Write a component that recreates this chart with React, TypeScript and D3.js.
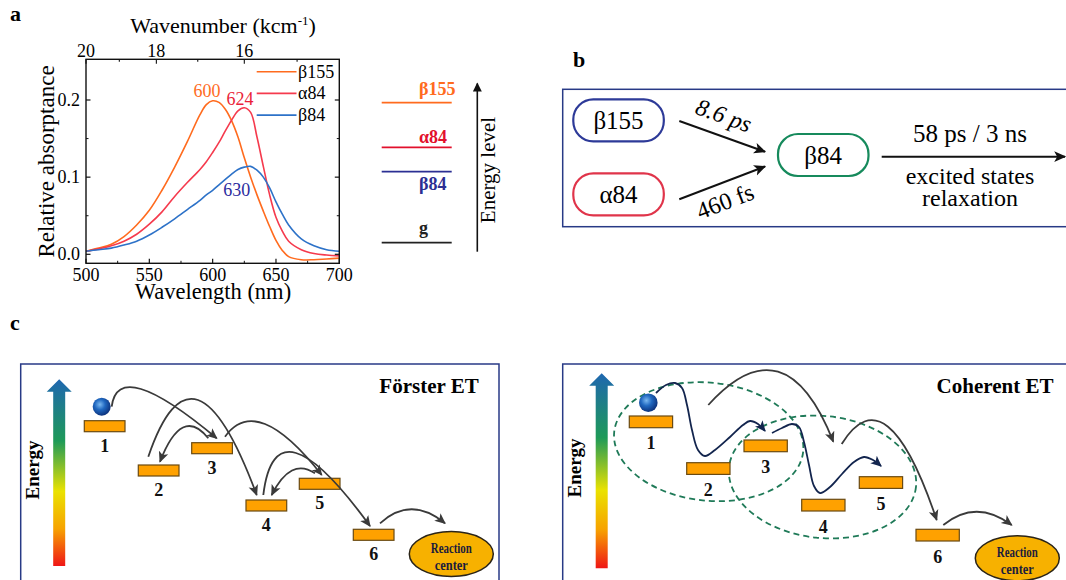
import * as d3 from 'd3'

const SERIF = { fontFamily: 'Liberation Serif' }

// ---- panel a: absorption spectra ----
const wavelengths = [500, 510, 520, 530, 540, 550, 560, 570, 580, 590, 595, 600, 605, 610, 615, 620, 625, 630, 635, 640, 645, 650, 655, 660, 670, 680, 690, 700]
const beta155Abs = [0.004, 0.008, 0.013, 0.023, 0.038, 0.057, 0.083, 0.113, 0.146, 0.181, 0.194, 0.199, 0.197, 0.188, 0.173, 0.152, 0.125, 0.1, 0.077, 0.056, 0.036, 0.018, 0.005, -0.003, -0.007, -0.007, -0.006, -0.005]
const alpha84Abs = [0.004, 0.007, 0.011, 0.017, 0.026, 0.039, 0.055, 0.075, 0.093, 0.11, 0.12, 0.132, 0.145, 0.16, 0.174, 0.186, 0.19, 0.184, 0.152, 0.114, 0.077, 0.048, 0.03, 0.017, 0.006, 0.001, -0.001, -0.002]
const beta84Abs = [0.004, 0.006, 0.008, 0.012, 0.017, 0.025, 0.035, 0.046, 0.058, 0.07, 0.077, 0.083, 0.09, 0.097, 0.104, 0.11, 0.113, 0.114, 0.109, 0.1, 0.086, 0.068, 0.052, 0.038, 0.02, 0.011, 0.006, 0.004]

const seriesNames = ['β155', 'α84', 'β84']
const seriesColors = ['#ff6b1e', '#f53a4d', '#2d72c8']

const peakLabels = ['600', '624', '630']
const peakLabelWl = [595.5, 621.5, 619]
const peakLabelAbs = [0.204, 0.194, 0.076]
const peakLabelColors = ['#ff6b1e', '#ea1f3a', '#2b2b9e']

const wlTicks = [500, 550, 600, 650, 700]
const wlMinorTicks = [525, 575, 625, 675]
const absTicks = [0, 0.1, 0.2]
const absMinorTicks = [0.05, 0.15]
const wnTicks = [20, 19, 18, 17, 16, 15]
const wnLabels = [20, 18, 16]

// energy level sketch next to the spectra
const levelNames = ['β155', 'α84', 'β84', 'g']
const levelColors = ['#ff6b1e', '#e2102c', '#2b2f93', '#222222']
const levelPosY = [102.7, 147.3, 171.7, 242.7]
const levelLabelY = [95, 142.5, 190, 234]

// ---- panel b: kinetic scheme ----
const nodeNames = ['β155', 'α84', 'β84']
const nodeColors = ['#2d3a98', '#e0344a', '#168a5c']
const nodeX = [573.3, 573.3, 778]
const nodeY = [99.3, 173.3, 134]

// ---- panel c: energy transfer sketches ----
const siteNames = ['1', '2', '3', '4', '5', '6']
const forsterSiteX = [84.3, 138.3, 191.7, 246, 299.3, 353.3]
const forsterSiteY = [420.7, 465, 442.7, 500, 478.3, 529.3]
const coherentSiteX = [629.3, 686.7, 744, 801.7, 859.3, 916]
const coherentSiteY = [416, 462.7, 440, 499.3, 476.7, 529.3]

// hops: start, apex, end
const forsterHops: [number, number][][] = [
  [[111.7, 406.7], [141, 389], [216.7, 438.3]],
  [[148.3, 456.7], [198, 400], [256.7, 495]],
  [[208.3, 438.3], [183, 427.5], [160, 461.7]],
  [[225, 436.7], [265, 424], [321.7, 475]],
  [[263.3, 495], [296, 453], [370, 526]],
  [[315, 473.3], [292, 470.5], [271.7, 495]],
  [[380, 523.3], [411.7, 509.3], [445, 523.3]],
]
const coherentHops: [number, number][][] = [
  [[708.3, 405], [778, 371.7], [833.3, 441.7]],
  [[841.7, 444], [888, 426.7], [936.7, 520]],
  [[943.3, 525], [976.7, 511.7], [1011.7, 525]],
]
const coherentWaves: [number, number][][] = [
  [[656, 393], [666, 385], [675, 383], [682, 388], [687, 405], [692, 430], [698, 450], [705, 456], [715, 450], [730, 437], [743, 425], [750, 421], [758, 424], [765, 431]],
  [[772, 433], [782, 428], [792, 424], [799, 427], [804, 442], [809, 465], [814, 486], [820, 493], [830, 487], [842, 474], [854, 462], [864, 457], [873, 460], [881, 466]],
]
const coherenceDomains = [
  { cx: 708.7, cy: 441.7, rx: 95, ry: 59, rot: 6 },
  { cx: 822.5, cy: 477, rx: 94, ry: 61, rot: 6 },
]

function hopPath(p: [number, number][]) {
  const [s, a, e] = p
  const path = d3.path()
  path.moveTo(s[0], s[1])
  path.quadraticCurveTo(2 * a[0] - (s[0] + e[0]) / 2, 2 * a[1] - (s[1] + e[1]) / 2, e[0], e[1])
  return path.toString()
}

const waveLine = d3.line().curve(d3.curveCatmullRom.alpha(0.5))

function EnergyArrow({ x, top, bottom, id }: { x: number; top: number; bottom: number; id: string }) {
  const p = d3.path()
  p.moveTo(x - 6, bottom)
  p.lineTo(x - 6, top + 12.5)
  p.lineTo(x - 12.5, top + 12.5)
  p.lineTo(x, top)
  p.lineTo(x + 12.5, top + 12.5)
  p.lineTo(x + 6, top + 12.5)
  p.lineTo(x + 6, bottom)
  p.closePath()
  return <path d={p.toString()} fill={`url(#${id})`} />
}

function Sites({ xs, ys, w, h, dy }: { xs: number[]; ys: number[]; w: number; h: number; dy: number }) {
  return (
    <g>
      {siteNames.map((s, i) => (
        <g key={s}>
          <rect x={xs[i]} y={ys[i]} width={w} height={h} fill="#ffa100" stroke="#6a4a12" strokeWidth={1.2} />
          <text style={SERIF} x={xs[i] + w / 2} y={ys[i] + h + dy} textAnchor="middle" fontWeight="bold" fontSize={18} fill="#111">{s}</text>
        </g>
      ))}
    </g>
  )
}

function ReactionCenter({ cx, cy }: { cx: number; cy: number }) {
  return (
    <g>
      <ellipse cx={cx} cy={cy} rx={42} ry={22.5} fill="#f7b100" stroke="#2a2418" strokeWidth={1.5} />
      <text style={SERIF} x={cx} y={cy - 1.5} textAnchor="middle" fontWeight="bold" fontSize={14} textLength={41} lengthAdjust="spacingAndGlyphs" fill="#1c1c3c">Reaction</text>
      <text style={SERIF} x={cx} y={cy + 16} textAnchor="middle" fontWeight="bold" fontSize={14} textLength={33} lengthAdjust="spacingAndGlyphs" fill="#1c1c3c">center</text>
    </g>
  )
}

export default function App() {
  const x = d3.scaleLinear().domain([500, 700]).range([86, 339.3])
  const y = d3.scaleLinear().domain([0, 0.2]).range([254.3, 100])
  const plotTop = 59.3
  const plotBottom = 263.3
  const series = [beta155Abs, alpha84Abs, beta84Abs]
  const line = d3
    .line<number>()
    .x((_, i) => x(wavelengths[i]))
    .y((d) => y(d))
    .curve(d3.curveCatmullRom.alpha(0.5))

  return (
    <div style={{ position: 'absolute', left: 0, top: 0 }}>
      <svg width={1066} height={580} style={{ display: 'block', background: '#fff' }}>
        <defs>
          <linearGradient id="eGradL" x1="0" y1="0" x2="0" y2="1">
            <stop offset="0" stopColor="#1f67b0" />
            <stop offset="0.33" stopColor="#1e9a58" />
            <stop offset="0.6" stopColor="#eae200" />
            <stop offset="0.8" stopColor="#f7a300" />
            <stop offset="1" stopColor="#ef1616" />
          </linearGradient>
          <radialGradient id="ball" cx="0.4" cy="0.38" r="0.65">
            <stop offset="0" stopColor="#7ab8f0" />
            <stop offset="0.45" stopColor="#2068c0" />
            <stop offset="1" stopColor="#0b2f78" />
          </radialGradient>
          <marker id="grayHead" viewBox="0 0 10 10" refX={9} refY={5} markerWidth={11} markerHeight={11} markerUnits="userSpaceOnUse" orient="auto">
            <path d="M0,0.5 L10,5 L0,9.5 L2.5,5 z" fill="#3a3a3a" />
          </marker>
          <marker id="navyHead" viewBox="0 0 10 10" refX={9} refY={5} markerWidth={11} markerHeight={11} markerUnits="userSpaceOnUse" orient="auto">
            <path d="M0,0.5 L10,5 L0,9.5 L2.5,5 z" fill="#13254e" />
          </marker>
          <marker id="blackHead" viewBox="0 0 10 10" refX={9} refY={5} markerWidth={12} markerHeight={12} markerUnits="userSpaceOnUse" orient="auto">
            <path d="M0,0.5 L10,5 L0,9.5 L2.5,5 z" fill="#111" />
          </marker>
          <marker id="levelHead" viewBox="0 0 10 10" refX={9} refY={5} markerWidth={13} markerHeight={9} markerUnits="userSpaceOnUse" orient="auto">
            <path d="M0,0 L10,5 L0,10 z" fill="#111" />
          </marker>
        </defs>

        {/* ---------- panel a ---------- */}
        <text style={SERIF} x={10} y={21} fontSize={22} fontWeight="bold">a</text>
        <text style={SERIF} x={223} y={33} textAnchor="middle" fontSize={22}>
          Wavenumber (kcm<tspan dy={-8} fontSize={13}>-1</tspan><tspan dy={8}>)</tspan>
        </text>

        {series.map((s, i) => (
          <path key={seriesNames[i]} d={line(s) ?? ''} fill="none" stroke={seriesColors[i]} strokeWidth={1.6} />
        ))}

        <rect x={86} y={plotTop} width={339.3 - 86} height={plotBottom - plotTop} fill="none" stroke="#111" strokeWidth={1.4} />

        {wlTicks.map((t) => (
          <g key={t}>
            <line x1={x(t)} x2={x(t)} y1={plotBottom} y2={plotBottom - 4.5} stroke="#111" strokeWidth={1.2} />
            <text style={SERIF} x={x(t)} y={280.5} textAnchor="middle" fontSize={18}>{t}</text>
          </g>
        ))}
        {wlMinorTicks.map((t) => (
          <line key={t} x1={x(t)} x2={x(t)} y1={plotBottom} y2={plotBottom - 2.5} stroke="#111" strokeWidth={1} />
        ))}
        {absTicks.map((t) => (
          <g key={t}>
            <line x1={86} x2={90.5} y1={y(t)} y2={y(t)} stroke="#111" strokeWidth={1.2} />
            <line x1={339.3} x2={334.8} y1={y(t)} y2={y(t)} stroke="#111" strokeWidth={1.2} />
            <text style={SERIF} x={80} y={y(t) + 6} textAnchor="end" fontSize={18}>{t.toFixed(1)}</text>
          </g>
        ))}
        {absMinorTicks.map((t) => (
          <g key={t}>
            <line x1={86} x2={88.5} y1={y(t)} y2={y(t)} stroke="#111" strokeWidth={1} />
            <line x1={339.3} x2={336.8} y1={y(t)} y2={y(t)} stroke="#111" strokeWidth={1} />
          </g>
        ))}
        {wnTicks.map((k) => (
          <line key={k} x1={x(1e4 / k)} x2={x(1e4 / k)} y1={plotTop} y2={plotTop + (k % 2 === 0 ? 4.5 : 2.5)} stroke="#111" strokeWidth={1.1} />
        ))}
        {wnLabels.map((k) => (
          <text style={SERIF} key={k} x={x(1e4 / k)} y={56.5} textAnchor="middle" fontSize={18}>{k}</text>
        ))}

        <text style={SERIF} x={213} y={298.5} textAnchor="middle" fontSize={22.5}>Wavelength (nm)</text>
        <text style={SERIF} transform="translate(53.5,161.5) rotate(-90)" textAnchor="middle" fontSize={23}>Relative absorptance</text>

        {peakLabels.map((l, i) => (
          <text style={SERIF} key={l} x={x(peakLabelWl[i])} y={y(peakLabelAbs[i])} textAnchor="middle" fontSize={18} fill={peakLabelColors[i]}>{l}</text>
        ))}

        {seriesNames.map((n, i) => (
          <g key={n}>
            <line x1={256.7} x2={296.5} y1={71.7 + i * 21.7} y2={71.7 + i * 21.7} stroke={seriesColors[i]} strokeWidth={1.6} />
            <text style={SERIF} x={298} y={71.7 + i * 21.7 + 6} fontSize={18}>{n}</text>
          </g>
        ))}

        {levelNames.map((n, i) => (
          <g key={n}>
            <line x1={381.7} x2={451.7} y1={levelPosY[i]} y2={levelPosY[i]} stroke={levelColors[i]} strokeWidth={1.8} />
            <text style={SERIF} x={n === 'g' ? 423.5 : 419} y={levelLabelY[i]} fontSize={18} fontWeight="bold" fill={levelColors[i]} textAnchor={n === 'g' ? 'middle' : 'start'}>{n}</text>
          </g>
        ))}
        <line x1={477.3} x2={477.3} y1={251.7} y2={83.5} stroke="#111" strokeWidth={1.6} markerEnd="url(#levelHead)" />
        <text style={SERIF} transform="translate(494.5,170) rotate(-90)" textAnchor="middle" fontSize={21}>Energy level</text>

        {/* ---------- panel b ---------- */}
        <text style={SERIF} x={573} y={67} fontSize={22} fontWeight="bold">b</text>
        <rect x={562.7} y={89.3} width={520} height={137.4} fill="none" stroke="#283a86" strokeWidth={1.5} />
        {nodeNames.map((n, i) => (
          <g key={n}>
            <rect x={nodeX[i]} y={nodeY[i]} width={90.5} height={42} rx={20} fill="#fff" stroke={nodeColors[i]} strokeWidth={2.2} />
            <text style={SERIF} x={nodeX[i] + 45.2} y={nodeY[i] + 29.5} textAnchor="middle" fontSize={25}>{n}</text>
          </g>
        ))}
        <line x1={679.3} y1={121} x2={765} y2={151.7} stroke="#111" strokeWidth={2} markerEnd="url(#blackHead)" />
        <line x1={679.3} y1={199.3} x2={765} y2={166.5} stroke="#111" strokeWidth={2} markerEnd="url(#blackHead)" />
        <text style={SERIF} transform="translate(721,123) rotate(20)" textAnchor="middle" fontSize={24} fontStyle="italic">8.6 ps</text>
        <text style={SERIF} transform="translate(728,209) rotate(-21)" textAnchor="middle" fontSize={24}>460 fs</text>
        <line x1={881.7} y1={156.7} x2={1065} y2={156.7} stroke="#111" strokeWidth={2} markerEnd="url(#blackHead)" />
        <text style={SERIF} x={970} y={142} textAnchor="middle" fontSize={25}>58 ps / 3 ns</text>
        <text style={SERIF} x={970} y={183.5} textAnchor="middle" fontSize={24}>excited states</text>
        <text style={SERIF} x={970} y={205.5} textAnchor="middle" fontSize={24}>relaxation</text>

        {/* ---------- panel c ---------- */}
        <text style={SERIF} x={10} y={330} fontSize={22} fontWeight="bold">c</text>

        {/* Förster */}
        <rect x={20.7} y={364} width={478.3} height={240} fill="none" stroke="#283a86" strokeWidth={1.5} />
        <EnergyArrow x={59.2} top={379.3} bottom={566} id="eGradL" />
        <text style={SERIF} transform="translate(39,470) rotate(-90)" textAnchor="middle" fontSize={19} fontWeight="bold">Energy</text>
        <text style={SERIF} x={429} y={393} textAnchor="middle" fontSize={21} fontWeight="bold">Förster ET</text>
        <Sites xs={forsterSiteX} ys={forsterSiteY} w={40.7} h={11} dy={20} />
        <circle cx={101.7} cy={406.7} r={9} fill="url(#ball)" />
        {forsterHops.map((h, i) => (
          <path key={i} d={hopPath(h)} fill="none" stroke="#3a3a3a" strokeWidth={1.8} markerEnd="url(#grayHead)" />
        ))}
        <ReactionCenter cx={451.3} cy={554} />

        {/* Coherent */}
        <rect x={562.7} y={364} width={520} height={240} fill="none" stroke="#283a86" strokeWidth={1.5} />
        <EnergyArrow x={601.7} top={373.3} bottom={568.3} id="eGradL" />
        <text style={SERIF} transform="translate(581,468) rotate(-90)" textAnchor="middle" fontSize={19} fontWeight="bold">Energy</text>
        <text style={SERIF} x={995} y={393} textAnchor="middle" fontSize={21} fontWeight="bold">Coherent ET</text>
        {coherenceDomains.map((e, i) => (
          <ellipse key={i} cx={e.cx} cy={e.cy} rx={e.rx} ry={e.ry} transform={`rotate(${e.rot},${e.cx},${e.cy})`} fill="none" stroke="#1f7a58" strokeWidth={1.8} strokeDasharray="6,4" />
        ))}
        <Sites xs={coherentSiteX} ys={coherentSiteY} w={43.3} h={11.7} dy={21.5} />
        <circle cx={648.3} cy={402.7} r={9.3} fill="url(#ball)" />
        {coherentWaves.map((w, i) => (
          <path key={i} d={waveLine(w) ?? ''} fill="none" stroke="#13254e" strokeWidth={1.8} markerEnd="url(#navyHead)" />
        ))}
        {coherentHops.map((h, i) => (
          <path key={i} d={hopPath(h)} fill="none" stroke="#3a3a3a" strokeWidth={1.8} markerEnd="url(#grayHead)" />
        ))}
        <ReactionCenter cx={1017.3} cy={558.3} />
      </svg>
    </div>
  )
}
